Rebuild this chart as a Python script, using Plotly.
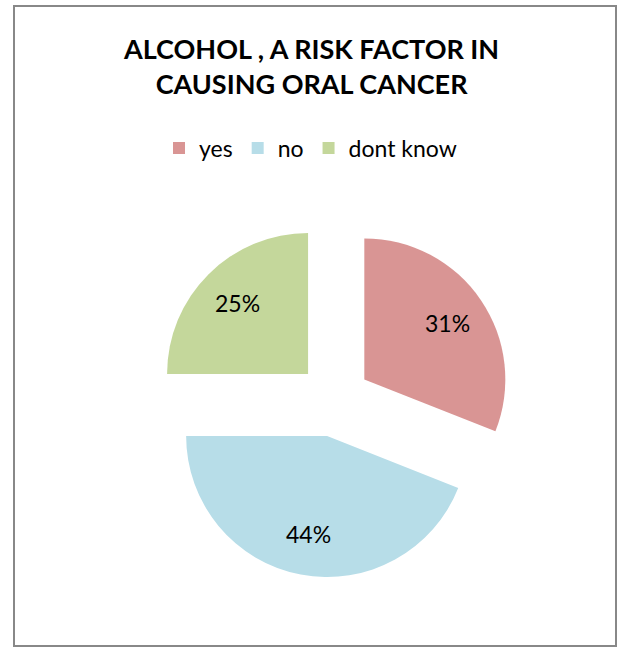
import math
import plotly.graph_objects as go

categories = ["yes", "no", "dont know"]
values = [31, 44, 25]
colors = ["#D99594", "#B7DDE8", "#C4D79B"]
title_text = "ALCOHOL , A RISK FACTOR IN<br>CAUSING ORAL CANCER"

W, H = 621, 654
FONT = "Lato, Open Sans, sans-serif"

# pie geometry (pixels)
cx, cy = 334, 400
pull = 0.26
r = 141
dom_half = r * (1 + pull)

fig = go.Figure(go.Pie(
    labels=categories,
    values=values,
    marker=dict(colors=colors, line=dict(width=0)),
    sort=False,
    direction="clockwise",
    rotation=0,
    pull=[pull] * len(values),
    textinfo="none",
    domain=dict(x=[(cx - dom_half) / W, (cx + dom_half) / W],
                y=[(H - cy - dom_half) / H, (H - cy + dom_half) / H]),
    hoverinfo="label+percent",
))

# percentage labels placed along each slice's bisector
total = sum(values)
annotations = []
start = 0.0
for v in values:
    frac = v / total
    mid = (start + frac / 2) * 2 * math.pi
    start += frac
    dist = pull * r + 0.71 * r
    px = cx + dist * math.sin(mid)
    py = cy - dist * math.cos(mid)
    annotations.append(dict(
        text=f"{round(frac * 100)}%", x=px / W, y=(H - py) / H,
        xref="paper", yref="paper", xanchor="center", yanchor="middle",
        showarrow=False, font=dict(family=FONT, size=23, color="black"),
    ))

annotations.append(dict(
    text="<b>" + title_text + "</b>",
    x=0.5, xref="paper", xanchor="center",
    y=(H - 66) / H, yref="paper", yanchor="middle",
    showarrow=False,
    font=dict(family=FONT, size=27, color="black"),
    align="center",
))

fig.update_layout(
    width=W, height=H,
    margin=dict(l=0, r=0, t=0, b=0),
    paper_bgcolor="white",
    plot_bgcolor="white",
    showlegend=True,
    legend=dict(
        orientation="h",
        x=0.5, xanchor="center",
        y=(H - 148) / H, yanchor="middle",
        font=dict(family=FONT, size=23, color="black"),
        itemsizing="constant",
    ),
    annotations=annotations,
    shapes=[dict(
        type="rect", xref="paper", yref="paper",
        x0=14 / W, x1=616 / W, y0=(H - 646) / H, y1=(H - 6) / H,
        line=dict(color="#888888", width=2),
    )],
)

fig.write_html("out.html")
